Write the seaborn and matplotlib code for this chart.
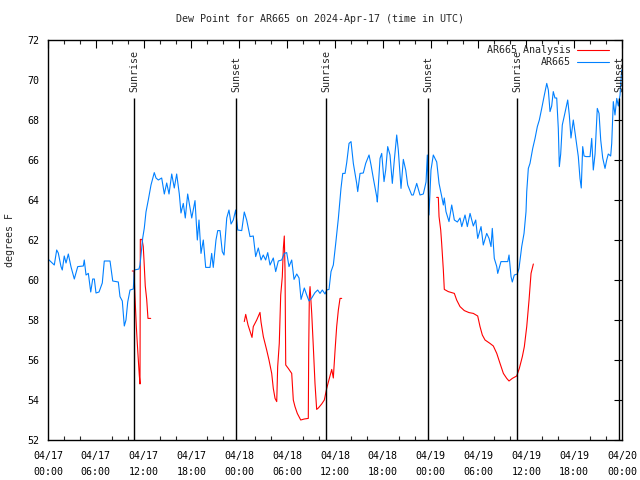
import numpy as np
import pandas as pd
import matplotlib
matplotlib.use("Agg")
import matplotlib.pyplot as plt
import matplotlib.dates as mdates
import seaborn as sns

# ---------------- data (hours after 2024-04-17 00:00 UTC, dew point in F) ----
blue_hours = [0.0, 0.79, 1.09, 1.29, 1.63, 1.79, 2.04, 2.26, 2.55, 2.89, 3.3, 3.73, 4.43, 4.55,
              4.77, 5.06, 5.36, 5.61, 5.81, 6.02, 6.4, 6.81, 7.06, 7.78, 8.12, 8.82, 9.03, 9.32,
              9.57, 9.78, 10.0, 10.29, 10.7, 10.83, 11.41, 11.54, 11.75, 11.88, 12.08, 12.29,
              12.58, 12.92, 13.33, 13.55, 13.84, 14.26, 14.59, 14.89, 15.18, 15.52, 15.84, 16.14,
              16.47, 16.68, 16.97, 17.22, 17.52, 17.81, 18.03, 18.44, 18.73, 18.94, 19.19, 19.48,
              19.78, 20.32, 20.53, 20.73, 21.07, 21.29, 21.58, 21.86, 22.08, 22.42, 22.7, 22.96,
              23.24, 23.54, 23.8, 24.3, 24.62, 24.92, 25.34, 25.75, 26.05, 26.38, 26.72, 27.0,
              27.3, 27.56, 27.85, 28.26, 28.56, 28.89, 29.31, 29.64, 29.94, 30.23, 30.57, 30.86,
              31.2, 31.49, 31.74, 32.15, 32.45, 32.74, 33.08, 33.49, 33.83, 34.12, 34.41, 34.75,
              34.96, 35.25, 35.5, 35.79, 36.09, 36.42, 36.75, 36.97, 37.26, 37.47, 37.76, 38.01,
              38.3, 38.72, 38.85, 39.14, 39.55, 39.85, 40.27, 40.52, 40.81, 41.23, 41.31, 41.65,
              41.86, 42.15, 42.36, 42.61, 42.9, 43.19, 43.44, 43.74, 43.94, 44.28, 44.57, 44.87,
              45.12, 45.62, 45.82, 46.25, 46.66, 47.08, 47.42, 47.58, 47.79, 48.04, 48.33, 48.76,
              49.05, 49.39, 49.59, 49.71, 49.92, 50.3, 50.64, 50.97, 51.35, 51.68, 51.9, 52.31,
              52.6, 52.94, 53.35, 53.65, 53.9, 54.32, 54.6, 55.03, 55.32, 55.57, 55.73, 55.98,
              56.29, 56.41, 56.82, 57.67, 57.83, 58.08, 58.24, 58.49, 58.87, 59.08, 59.42, 59.71,
              59.96, 60.05, 60.25, 60.46, 60.8, 61.09, 61.38, 61.63, 61.93, 62.22, 62.56, 62.76,
              62.97, 63.18, 63.38, 63.59, 63.81, 64.01, 64.14, 64.31, 64.51, 64.76, 65.19, 65.39,
              65.6, 65.89, 66.23, 66.52, 66.73, 66.89, 67.07, 67.24, 67.49, 67.99, 68.2, 68.4,
              68.62, 68.9, 69.12, 69.33, 69.58, 69.87, 70.08, 70.28, 70.58, 70.71, 70.91, 71.12,
              71.34, 71.54, 71.75, 71.96]
blue_dew = [61.05, 60.75, 61.5, 61.35, 60.67, 60.5, 61.2, 60.85, 61.3, 60.65, 60.05, 60.67, 60.7, 61.0,
            60.25, 60.33, 59.4, 60.05, 60.05, 59.35, 59.4, 59.85, 60.95, 60.95, 59.95, 59.9, 59.17, 58.95,
            57.7, 58.0, 58.9, 59.5, 59.55, 60.5, 60.55, 60.75, 61.6, 62.1, 62.6, 63.4,
            64.0, 64.75, 65.37, 65.1, 65.0, 65.1, 64.3, 64.85, 64.3, 65.3, 64.6, 65.3,
            64.3, 63.35, 63.83, 63.1, 64.3, 63.6, 63.1, 63.97, 62.0, 63.0, 61.33, 62.0,
            60.63, 60.63, 61.33, 60.63, 62.0, 62.47, 62.47, 61.42, 61.25, 63.1, 63.5, 62.8,
            63.0, 63.5, 62.5, 62.47, 63.4, 63.0, 62.17, 62.2, 61.17, 61.6, 61.0, 61.25,
            61.0, 61.37, 60.75, 61.1, 60.42, 60.95, 61.0, 61.33, 61.37, 60.67, 61.0, 60.03,
            60.3, 60.1, 59.03, 59.6, 59.25, 58.95, 59.1, 59.37, 59.5, 59.33, 59.5, 59.3,
            59.5, 59.53, 60.42, 60.75, 61.83, 63.08, 64.58, 65.33, 65.33, 65.87, 66.83, 66.92,
            65.83, 64.83, 64.42, 65.33, 65.35, 65.83, 66.25, 65.75, 65.08, 64.17, 63.9, 66.08,
            66.33, 64.92, 65.5, 66.67, 66.25, 64.83, 66.0, 67.25, 66.5, 64.58, 66.03, 65.5,
            64.75, 64.25, 64.25, 64.83, 64.25, 64.3, 64.9, 66.25, 63.25, 65.5, 66.25, 65.9,
            64.83, 64.17, 63.75, 64.1, 63.42, 62.92, 63.75, 63.0, 62.9, 63.1, 62.67, 63.25,
            62.67, 63.33, 62.7, 63.0, 62.08, 62.67, 61.75, 62.33, 62.08, 61.67, 62.58, 61.08,
            60.67, 60.33, 60.92, 60.92, 61.25, 60.17, 59.9, 60.25, 60.3, 60.58, 61.67, 62.33,
            63.42, 64.42, 65.58, 65.83, 66.58, 67.08, 67.67, 68.0, 68.58, 69.17, 69.83, 69.5,
            68.42, 68.7, 69.42, 69.1, 69.1, 67.58, 65.67, 66.3, 67.75, 68.2, 69.0, 68.25,
            67.1, 68.0, 67.0, 66.17, 65.08, 64.6, 66.67, 66.2, 66.17, 66.17, 67.08, 65.5,
            66.3, 68.58, 68.33, 67.0, 66.1, 65.58, 66.0, 66.3, 66.2, 66.83, 68.92, 68.25,
            69.08, 68.7, 69.25, 70.5]

red1_hours = [10.57, 10.79, 10.91, 11.08, 11.2, 11.33, 11.45, 11.54, 11.58, 11.79, 11.95, 12.04,
              12.2, 12.38, 12.54, 12.88]
red1_dew = [60.45, 60.45, 59.17, 57.67, 56.83, 56.0, 55.25, 54.8, 62.03, 62.03, 61.67, 61.0,
            59.7, 59.03, 58.08, 58.08]
red2_hours = [24.62, 24.8, 25.09, 25.59, 25.75, 26.18, 26.59, 26.72, 27.01, 27.43, 27.72, 28.06,
              28.26, 28.48, 28.69, 28.81, 29.01, 29.19, 29.39, 29.52, 29.64, 29.73, 29.82, 30.14,
              30.57, 30.77, 30.98, 31.27, 31.7, 32.15, 32.65, 32.7, 32.78, 32.87, 33.08, 33.28,
              33.49, 33.7, 33.91, 34.33, 34.66, 34.96, 35.29, 35.59, 35.79, 36.01, 36.21, 36.42,
              36.63, 36.84]
red2_dew = [57.92, 58.28, 57.75, 57.13, 57.67, 58.0, 58.38, 57.9, 57.17, 56.5, 56.0, 55.33,
            54.58, 54.08, 53.92, 55.67, 56.83, 59.25, 60.17, 61.58, 62.2, 60.5, 55.75, 55.58,
            55.33, 54.0, 53.67, 53.33, 53.0, 53.05, 53.08, 56.42, 59.17, 59.67, 58.33, 56.67,
            54.83, 53.53, 53.6, 53.8, 54.0, 54.58, 55.08, 55.53, 55.1, 56.5, 57.67, 58.5,
            59.08, 59.08]
red3_hours = [48.75, 48.96, 49.05, 49.26, 49.38, 49.59, 49.71, 50.21, 50.97, 51.26, 51.68, 52.22,
              52.81, 53.35, 53.9, 54.19, 54.48, 54.82, 55.44, 55.86, 56.29, 56.7, 57.12, 57.54,
              57.83, 58.24, 58.79, 59.12, 59.5, 59.75, 60.05, 60.34, 60.59, 60.88]
red3_dew = [64.13, 64.13, 63.17, 62.5, 61.83, 60.5, 59.53, 59.42, 59.33, 59.0, 58.67, 58.47,
            58.37, 58.33, 58.2, 57.67, 57.25, 57.0, 56.83, 56.7, 56.33, 55.83, 55.33, 55.08,
            54.95, 55.08, 55.2, 55.58, 56.17, 56.67, 57.67, 59.0, 60.33, 60.8]

sun_labels = ["Sunrise", "Sunset", "Sunrise", "Sunset", "Sunrise", "Sunset"]
sun_times = ["2024-04-17 10:50", "2024-04-17 23:37", "2024-04-18 10:55",
             "2024-04-18 23:43", "2024-04-19 10:52", "2024-04-19 23:40"]

series_names = ["AR665 Analysis", "AR665"]
series_colors = ["#ff0000", "#0080ff"]

# ---------------- build table -------------------------------------------------
t0 = pd.Timestamp("2024-04-17 00:00")
frames = [pd.DataFrame({"hours": blue_hours, "dew": blue_dew, "series": "AR665", "seg": 0})]
for i, (h, d) in enumerate([(red1_hours, red1_dew), (red2_hours, red2_dew), (red3_hours, red3_dew)]):
    frames.append(pd.DataFrame({"hours": h, "dew": d, "series": "AR665 Analysis", "seg": i + 1}))
df = pd.concat(frames, ignore_index=True)
df["time"] = t0 + pd.to_timedelta(df["hours"], unit="h")

# ---------------- style -------------------------------------------------------
sns.set_style("white")
plt.rcParams["font.family"] = ["DejaVu Sans Mono"]
plt.rcParams["font.size"] = 7.2

fig = plt.figure(figsize=(6.4, 4.8), dpi=100)
ax = fig.add_axes([48 / 640, 1 - 440 / 480, 574 / 640, 400 / 480])

sns.lineplot(data=df, x="time", y="dew", hue="series", units="seg", estimator=None,
             hue_order=series_names, palette=dict(zip(series_names, series_colors)),
             linewidth=0.8, ax=ax)

xmin, xmax = pd.Timestamp("2024-04-17 00:00"), pd.Timestamp("2024-04-20 00:00")
ax.set_xlim(xmin, xmax)
ax.set_ylim(52, 72)
ax.set_yticks(np.arange(52, 73, 2))

ax.xaxis.set_major_locator(mdates.HourLocator(byhour=[0, 6, 12, 18]))
ax.xaxis.set_minor_locator(mdates.HourLocator(byhour=range(0, 24, 2)))
ax.xaxis.set_major_formatter(mdates.DateFormatter("%m/%d\n%H:%M"))
ax.tick_params(axis="both", which="major", direction="in", length=6, width=0.8,
               top=True, right=True, labelsize=7.2, colors="black", pad=6)
ax.tick_params(axis="x", which="major", pad=8)
ax.tick_params(axis="x", which="minor", direction="in", length=3, width=0.8, top=True, bottom=True)
for lab in ax.get_xticklabels():
    lab.set_linespacing(1.7)
for s in ax.spines.values():
    s.set_color("black")
    s.set_linewidth(1)

# sunrise / sunset lines
for lab, ts in zip(sun_labels, sun_times):
    t = pd.Timestamp(ts)
    ax.vlines(t, 52, 69.1, color="black", linewidth=1)
    ax.text(t, 69.4, lab, rotation=90, ha="center", va="bottom", fontsize=7.2, clip_on=False)

ax.set_xlabel("")
ax.set_ylabel("degrees F", fontsize=7.2, labelpad=9)
fig.text(0.5, 1 - 19 / 480, "Dew Point for AR665 on 2024-Apr-17 (time in UTC)",
         ha="center", va="center", fontsize=7.2)

handles, labels = ax.get_legend_handles_labels()
ax.legend(handles, labels, loc="upper right", bbox_to_anchor=(0.99, 1.005), frameon=False,
          markerfirst=False, handlelength=3.2, handletextpad=0.6, labelspacing=0.2,
          fontsize=7.2, borderpad=0.2)

fig.savefig("out.png", dpi=100)
